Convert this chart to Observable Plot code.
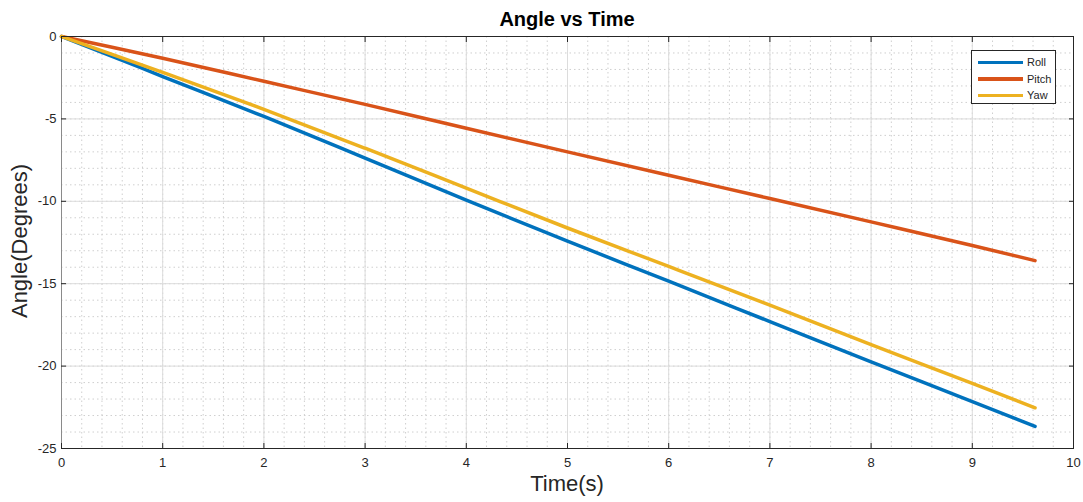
<!DOCTYPE html>
<html><head><meta charset="utf-8">
<script src="https://cdn.jsdelivr.net/npm/d3@7"></script>
<script src="https://cdn.jsdelivr.net/npm/@observablehq/plot@0.6"></script>
<style>
body{margin:0;background:#fff;font-family:"Liberation Sans",Arial,sans-serif;}
#wrap{position:relative;width:1083px;height:502px;overflow:hidden;}
#wrap svg{position:absolute;left:0;top:0;}
.title{position:absolute;left:0;width:1134px;text-align:center;top:8px;font-weight:bold;font-size:20px;color:#000;}
.xlab{position:absolute;left:0;width:1134px;text-align:center;top:471px;font-size:22px;color:#262626;}
.ylab{position:absolute;left:-80px;top:228px;width:200px;text-align:center;font-size:22px;color:#262626;transform:rotate(-90deg);transform-origin:center;}
.legend{position:absolute;left:971px;top:50px;width:85px;height:54px;border:1px solid #262626;background:#fff;box-sizing:border-box;padding-top:3px;}
.legend .row{height:16.5px;display:flex;align-items:center;font-size:11px;color:#262626;}
.legend .sw{width:45px;height:3.5px;margin-left:6px;margin-right:4px;}
</style></head><body><div id="wrap"></div>
<script>
const time  = [0, 0.5, 1, 2, 3, 4, 5, 6, 7, 8, 9, 9.62];
const roll  = [0, -1.2, -2.43, -4.85, -7.38, -9.93, -12.42, -14.85, -17.3, -19.75, -22.15, -23.66];
const pitch = [0, -0.65, -1.32, -2.72, -4.12, -5.57, -7.0, -8.42, -9.83, -11.25, -12.68, -13.6];
const yaw   = [0, -1.08, -2.18, -4.42, -6.78, -9.2, -11.62, -13.95, -16.3, -18.7, -21.05, -22.53];
const seriesNames  = ["Roll", "Pitch", "Yaw"];
const seriesColors = ["#0072BD", "#D95319", "#EDB120"];
const xTicks = [0, 1, 2, 3, 4, 5, 6, 7, 8, 9, 10];
const yTicks = [-25, -20, -15, -10, -5, 0];
const xMinor = d3.range(0, 10.001, 0.2);
const yMinor = d3.range(-25, 0.001, 1);
const titleText = "Angle vs Time";
const xLabel = "Time(s)";
const yLabel = "Angle(Degrees)";

const rows = [];
[roll, pitch, yaw].forEach((arr, i) => arr.forEach((v, j) => rows.push({t: time[j], v, s: seriesNames[i]})));

const blank = () => "";
const plain = d => String(d);
const chart = Plot.plot({
  width: 1083, height: 502,
  marginLeft: 61, marginRight: 10, marginTop: 36, marginBottom: 54,
  x: {domain: [0, 10]},
  y: {domain: [-25, 0]},
  color: {domain: seriesNames, range: seriesColors},
  style: {fontFamily: "'Liberation Sans', Arial, sans-serif", color: "#262626", background: "white"},
  marks: [
    Plot.gridX(xMinor, {stroke: "#cfcfcf", strokeOpacity: 1, strokeDasharray: "1.5,3"}),
    Plot.gridY(yMinor, {stroke: "#cfcfcf", strokeOpacity: 1, strokeDasharray: "1.5,3"}),
    Plot.gridX(xTicks, {stroke: "#dcdcdc", strokeOpacity: 1}),
    Plot.gridY(yTicks, {stroke: "#dcdcdc", strokeOpacity: 1}),
    Plot.line(rows, {x: "t", y: "v", z: "s", stroke: "s", strokeWidth: 3.5, curve: "monotone-x"}),
    Plot.frame({stroke: "#262626"}),
    Plot.ruleX([0], {stroke: "#8a8a8a"}),
    Plot.axisX(xTicks, {anchor: "bottom", tickSize: -5, tickFormat: blank, label: null}),
    Plot.axisX(xTicks, {anchor: "top", tickSize: -5, tickFormat: blank, label: null}),
    Plot.axisX(xTicks, {anchor: "bottom", tickSize: 0, tickPadding: 9, fontSize: 13, tickFormat: plain, label: null}),
    Plot.axisY(yTicks, {anchor: "left", tickSize: -5, tickFormat: blank, label: null}),
    Plot.axisY(yTicks, {anchor: "right", tickSize: -5, tickFormat: blank, label: null}),
    Plot.axisY(yTicks, {anchor: "left", tickSize: 0, tickPadding: 5, fontSize: 13, tickFormat: plain, label: null})
  ]
});
const wrap = document.getElementById("wrap");
wrap.appendChild(chart);
const mk = (cls, txt) => { const d = document.createElement("div"); d.className = cls; d.textContent = txt; wrap.appendChild(d); return d; };
mk("title", titleText);
mk("xlab", xLabel);
mk("ylab", yLabel);
const lg = document.createElement("div"); lg.className = "legend";
seriesNames.forEach((n, i) => {
  const r = document.createElement("div"); r.className = "row";
  const sw = document.createElement("span"); sw.className = "sw"; sw.style.background = seriesColors[i];
  const tx = document.createElement("span"); tx.textContent = n;
  r.appendChild(sw); r.appendChild(tx); lg.appendChild(r);
});
wrap.appendChild(lg);
</script></body></html>
